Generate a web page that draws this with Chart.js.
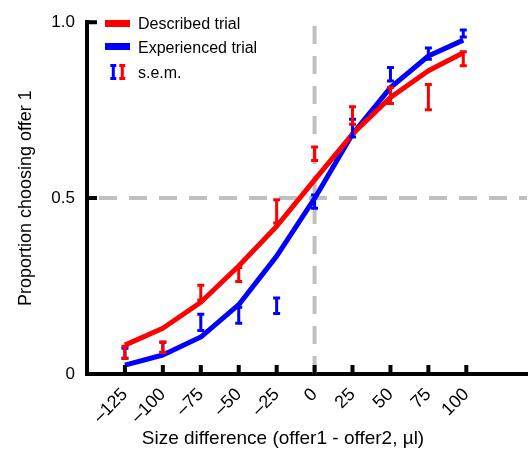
<!DOCTYPE html>
<html><head><meta charset="utf-8">
<script src="https://cdn.jsdelivr.net/npm/chart.js@4"></script>
<style>html,body{margin:0;padding:0;background:#fff}#wrap{width:528px;height:450px;position:relative}</style>
</head><body><div id="wrap"><canvas id="c"></canvas></div>
<script>
const sizeDiff = [-125, -100, -75, -50, -25, 0, 25, 50, 75, 98];
const describedFit = [0.082, 0.130, 0.204, 0.307, 0.420, 0.552, 0.682, 0.786, 0.862, 0.913];
const experiencedFit = [0.025, 0.054, 0.105, 0.197, 0.335, 0.499, 0.682, 0.814, 0.904, 0.949];
const describedMean = [0.062, 0.076, 0.231, 0.283, 0.462, 0.626, 0.735, 0.792, 0.787, 0.896];
const describedSem = [0.017, 0.015, 0.021, 0.020, 0.033, 0.019, 0.025, 0.023, 0.036, 0.020];
const experiencedMean = [0.059, 0.076, 0.147, 0.167, 0.194, 0.490, 0.699, 0.852, 0.911, 0.968];
const experiencedSem = [0.014, 0.014, 0.023, 0.023, 0.022, 0.019, 0.025, 0.019, 0.016, 0.010];
const xTickValues = [-125, -100, -75, -50, -25, 0, 25, 50, 75, 100];
const yTickValues = [0, 0.5, 1];
const yTickLabels = ['0', '0.5', '1.0'];
const legendLabels = ['Described trial', 'Experienced trial', 's.e.m.'];
const xTitle = 'Size difference (offer1 - offer2, \u00b5l)';
const yTitle = 'Proportion choosing offer 1';

const FONT = "'Liberation Sans', Arial, Helvetica, sans-serif";
const RED = '#ff0000', BLUE = '#0000ff';

function pts(ys) { return sizeDiff.map((x, i) => ({x: x, y: ys[i]})); }

const refLines = {
  id: 'refLines',
  beforeDatasetsDraw(chart) {
    const {ctx, chartArea: a, scales: {x, y}} = chart;
    ctx.save();
    ctx.strokeStyle = '#c0c0c0';
    ctx.lineWidth = 4;
    ctx.setLineDash([18, 12]);
    const y5 = y.getPixelForValue(0.5);
    ctx.beginPath(); ctx.moveTo(a.left + 12, y5); ctx.lineTo(a.right, y5); ctx.stroke();
    const x0 = x.getPixelForValue(0);
    ctx.beginPath(); ctx.moveTo(x0, a.bottom); ctx.lineTo(x0, y.getPixelForValue(1)); ctx.stroke();
    ctx.restore();
  }
};

function drawErr(ctx, xs, ys, means, sems, color) {
  ctx.save();
  ctx.strokeStyle = color; ctx.lineWidth = 3; ctx.lineCap = 'butt';
  ctx.beginPath();
  for (let i = 0; i < sizeDiff.length; i++) {
    const px = xs.getPixelForValue(sizeDiff[i]);
    const t = ys.getPixelForValue(means[i] + sems[i]);
    const b = ys.getPixelForValue(means[i] - sems[i]);
    ctx.moveTo(px, t); ctx.lineTo(px, b);
    ctx.moveTo(px - 3.5, t); ctx.lineTo(px + 3.5, t);
    ctx.moveTo(px - 3.5, b); ctx.lineTo(px + 3.5, b);
  }
  ctx.stroke();
  ctx.restore();
}

function drawGlyph(ctx, cx, top, bot, color) {
  ctx.save();
  ctx.strokeStyle = color; ctx.lineWidth = 3;
  ctx.beginPath();
  ctx.moveTo(cx, top); ctx.lineTo(cx, bot);
  ctx.moveTo(cx - 3, top + 1.5); ctx.lineTo(cx + 3, top + 1.5);
  ctx.moveTo(cx - 3, bot - 1.5); ctx.lineTo(cx + 3, bot - 1.5);
  ctx.stroke();
  ctx.restore();
}

const overlay = {
  id: 'overlay',
  afterDatasetsDraw(chart) {
    const {ctx, chartArea: a, scales: {x, y}} = chart;
    drawErr(ctx, x, y, experiencedMean, experiencedSem, BLUE);
    drawErr(ctx, x, y, describedMean, describedSem, RED);
    // inward tick marks
    ctx.save();
    ctx.strokeStyle = '#000'; ctx.lineWidth = 4;
    ctx.beginPath();
    xTickValues.forEach(v => { const px = x.getPixelForValue(v); ctx.moveTo(px, a.bottom); ctx.lineTo(px, a.bottom - 9); });
    yTickValues.forEach(v => { if (v === 0) return; const py = y.getPixelForValue(v); ctx.moveTo(a.left, py); ctx.lineTo(a.left + 10, py); });
    ctx.stroke();
    ctx.restore();
    // legend
    ctx.save();
    ctx.fillStyle = RED; ctx.fillRect(105, 20, 25, 7);
    ctx.fillStyle = BLUE; ctx.fillRect(105, 43, 25, 7);
    drawGlyph(ctx, 113.3, 64, 80, BLUE);
    drawGlyph(ctx, 122.3, 64, 80, RED);
    ctx.fillStyle = '#000';
    ctx.font = '16px ' + FONT;
    ctx.textAlign = 'left'; ctx.textBaseline = 'alphabetic';
    ctx.fillText(legendLabels[0], 138, 29);
    ctx.fillText(legendLabels[1], 138, 53);
    ctx.fillText(legendLabels[2], 138, 78);
    // x title
    ctx.font = '19px ' + FONT;
    ctx.textAlign = 'center';
    ctx.fillText(xTitle, 283, 444);
    ctx.restore();
  }
};

new Chart(document.getElementById('c'), {
  type: 'line',
  data: {
    datasets: [
      {label: legendLabels[0], data: pts(describedFit), borderColor: RED, backgroundColor: RED, borderWidth: 5, pointRadius: 0, tension: 0, borderJoinStyle: 'round', fill: false},
      {label: legendLabels[1], data: pts(experiencedFit), borderColor: BLUE, backgroundColor: BLUE, borderWidth: 5, pointRadius: 0, tension: 0, borderJoinStyle: 'round', fill: false}
    ]
  },
  options: {
    responsive: true,
    maintainAspectRatio: false,
    animation: false,
    layout: {padding: {top: 19, right: 1, bottom: 0, left: 0}},
    plugins: {legend: {display: false}, tooltip: {enabled: false}},
    scales: {
      x: {
        type: 'linear', min: -150, max: 140,
        grid: {display: false, drawTicks: false},
        border: {display: true, color: '#000', width: 4},
        afterBuildTicks: s => { s.ticks = xTickValues.map(v => ({value: v})); },
        afterFit: s => { s.height = 76; },
        ticks: {
          autoSkip: false, minRotation: 45, maxRotation: 45, padding: 10,
          color: '#000', font: {family: FONT, size: 18},
          callback: v => (v < 0 ? '\u2013' + Math.abs(v) : String(v))
        }
      },
      y: {
        type: 'linear', min: 0, max: 1,
        grid: {display: false, drawTicks: false},
        border: {display: true, color: '#000', width: 4},
        afterBuildTicks: s => { s.ticks = yTickValues.map(v => ({value: v})); },
        afterFit: s => { s.width = 87; },
        ticks: {
          padding: 12, color: '#000', font: {family: FONT, size: 17},
          callback: v => yTickLabels[yTickValues.indexOf(v)]
        },
        title: {display: true, text: yTitle, color: '#000', font: {family: FONT, size: 18}, padding: {top: 15, bottom: 0}}
      }
    }
  },
  plugins: [refLines, overlay]
});
</script>
</body></html>
